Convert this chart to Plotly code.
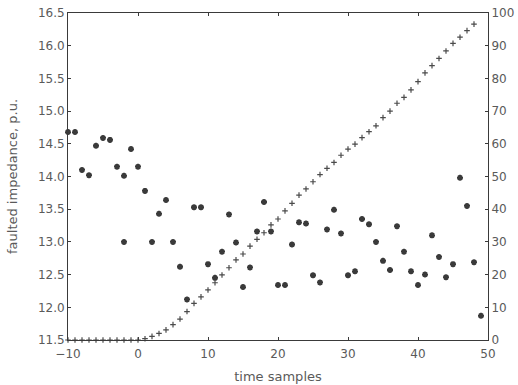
import plotly.graph_objects as go

# Faulted impedance estimate per time sample (left axis, p.u.)
t_imp = [-10, -9, -8, -7, -6, -5, -4, -3, -2, -2, -1, 0, 1, 2, 3, 4, 5, 6, 7, 8,
         9, 10, 11, 12, 13, 14, 15, 16, 17, 18, 19, 20, 21, 22, 23, 24, 25, 26, 27, 28,
         29, 30, 31, 32, 33, 34, 35, 36, 37, 38, 39, 40, 41, 42, 43, 44, 45, 46, 47, 48, 49]
z_imp = [14.68, 14.68, 14.10, 14.02, 14.47, 14.59, 14.56, 14.15, 14.01, 13.00, 14.42, 14.15, 13.78,
         13.00, 13.43, 13.64, 13.00, 12.62, 12.12, 13.53, 13.53, 12.66, 12.45, 12.85, 13.42,
         12.99, 12.31, 12.61, 13.16, 13.61, 13.16, 12.34, 12.34, 12.96, 13.30, 13.28, 12.49,
         12.38, 13.19, 13.49, 13.13, 12.49, 12.55, 13.35, 13.27, 13.00, 12.71, 12.57, 13.24,
         12.85, 12.55, 12.34, 12.50, 13.10, 12.77, 12.46, 12.66, 13.98, 13.55, 12.69, 11.87]

# Second quantity on the right axis (0-100)
t_ramp = [-10, -9, -8, -7, -6, -5, -4, -3, -2, -1, 0, 1, 2, 3, 4, 5, 6, 7, 8, 9,
          10, 11, 12, 13, 14, 15, 16, 17, 18, 19, 20, 21, 22, 23, 24, 25, 26, 27, 28, 29,
          30, 31, 32, 33, 34, 35, 36, 37, 38, 39, 40, 41, 42, 43, 44, 45, 46, 47, 48]
ramp = [0, 0, 0, 0, 0, 0, 0, 0, 0, 0, 0, 0.4, 1.1, 2.0, 3.1, 4.7, 6.4, 8.7, 11.2, 13.2,
        15.3, 17.5, 19.9, 22.1, 24.5, 26.3, 28.7, 30.8, 32.8, 35.2, 37.0, 39.5, 41.8, 44.3,
        46.2, 48.4, 50.6, 52.5, 54.3, 56.5, 58.4, 59.9, 61.9, 63.7, 65.5, 68.0, 70.0, 72.4,
        74.2, 76.5, 79.0, 81.7, 83.9, 86.1, 88.4, 90.7, 92.6, 94.6, 96.6]

x_ticks = [-10, 0, 10, 20, 30, 40, 50]
y_ticks = [11.5, 12.0, 12.5, 13.0, 13.5, 14.0, 14.5, 15.0, 15.5, 16.0, 16.5]
y2_ticks = [0, 10, 20, 30, 40, 50, 60, 70, 80, 90, 100]

ink = "#3a3a3a"
text_col = "#5a5a5a"
tick_font = dict(family="DejaVu Sans, sans-serif", size=12, color=text_col)
title_font = dict(family="DejaVu Sans, sans-serif", size=13, color=text_col)

fig = go.Figure()
fig.add_trace(go.Scatter(
    x=t_imp, y=z_imp, mode="markers", yaxis="y", cliponaxis=False,
    marker=dict(symbol="asterisk-open", size=5, color=ink,
                line=dict(width=1.8, color=ink)),
    showlegend=False))
fig.add_trace(go.Scatter(
    x=t_ramp, y=ramp, mode="markers", yaxis="y2", cliponaxis=False,
    marker=dict(symbol="cross-thin-open", size=4, color="#4a4a4a",
                line=dict(width=1.2, color="#4a4a4a")),
    showlegend=False))

axis_common = dict(showgrid=False, zeroline=False, showline=True, linecolor=ink,
                   linewidth=1, ticks="inside", ticklen=3, tickcolor=ink,
                   tickfont=tick_font, automargin=False)

fig.update_layout(
    width=518, height=385,
    margin=dict(l=68, r=30, t=13, b=45),
    paper_bgcolor="white", plot_bgcolor="white",
    font=tick_font,
    xaxis=dict(range=[-10, 50], tickvals=x_ticks, mirror="ticks", ticklabelstandoff=3,
               title=dict(text="time samples", font=title_font, standoff=11),
               **axis_common),
    yaxis=dict(range=[11.5, 16.5], tickvals=y_ticks, tickformat=".1f",
               title=dict(text="faulted impedance, p.u.", font=title_font, standoff=17),
               **axis_common),
    yaxis2=dict(range=[0, 100], tickvals=y2_ticks, overlaying="y", side="right",
                **axis_common),
)

fig.write_html("out.html")
